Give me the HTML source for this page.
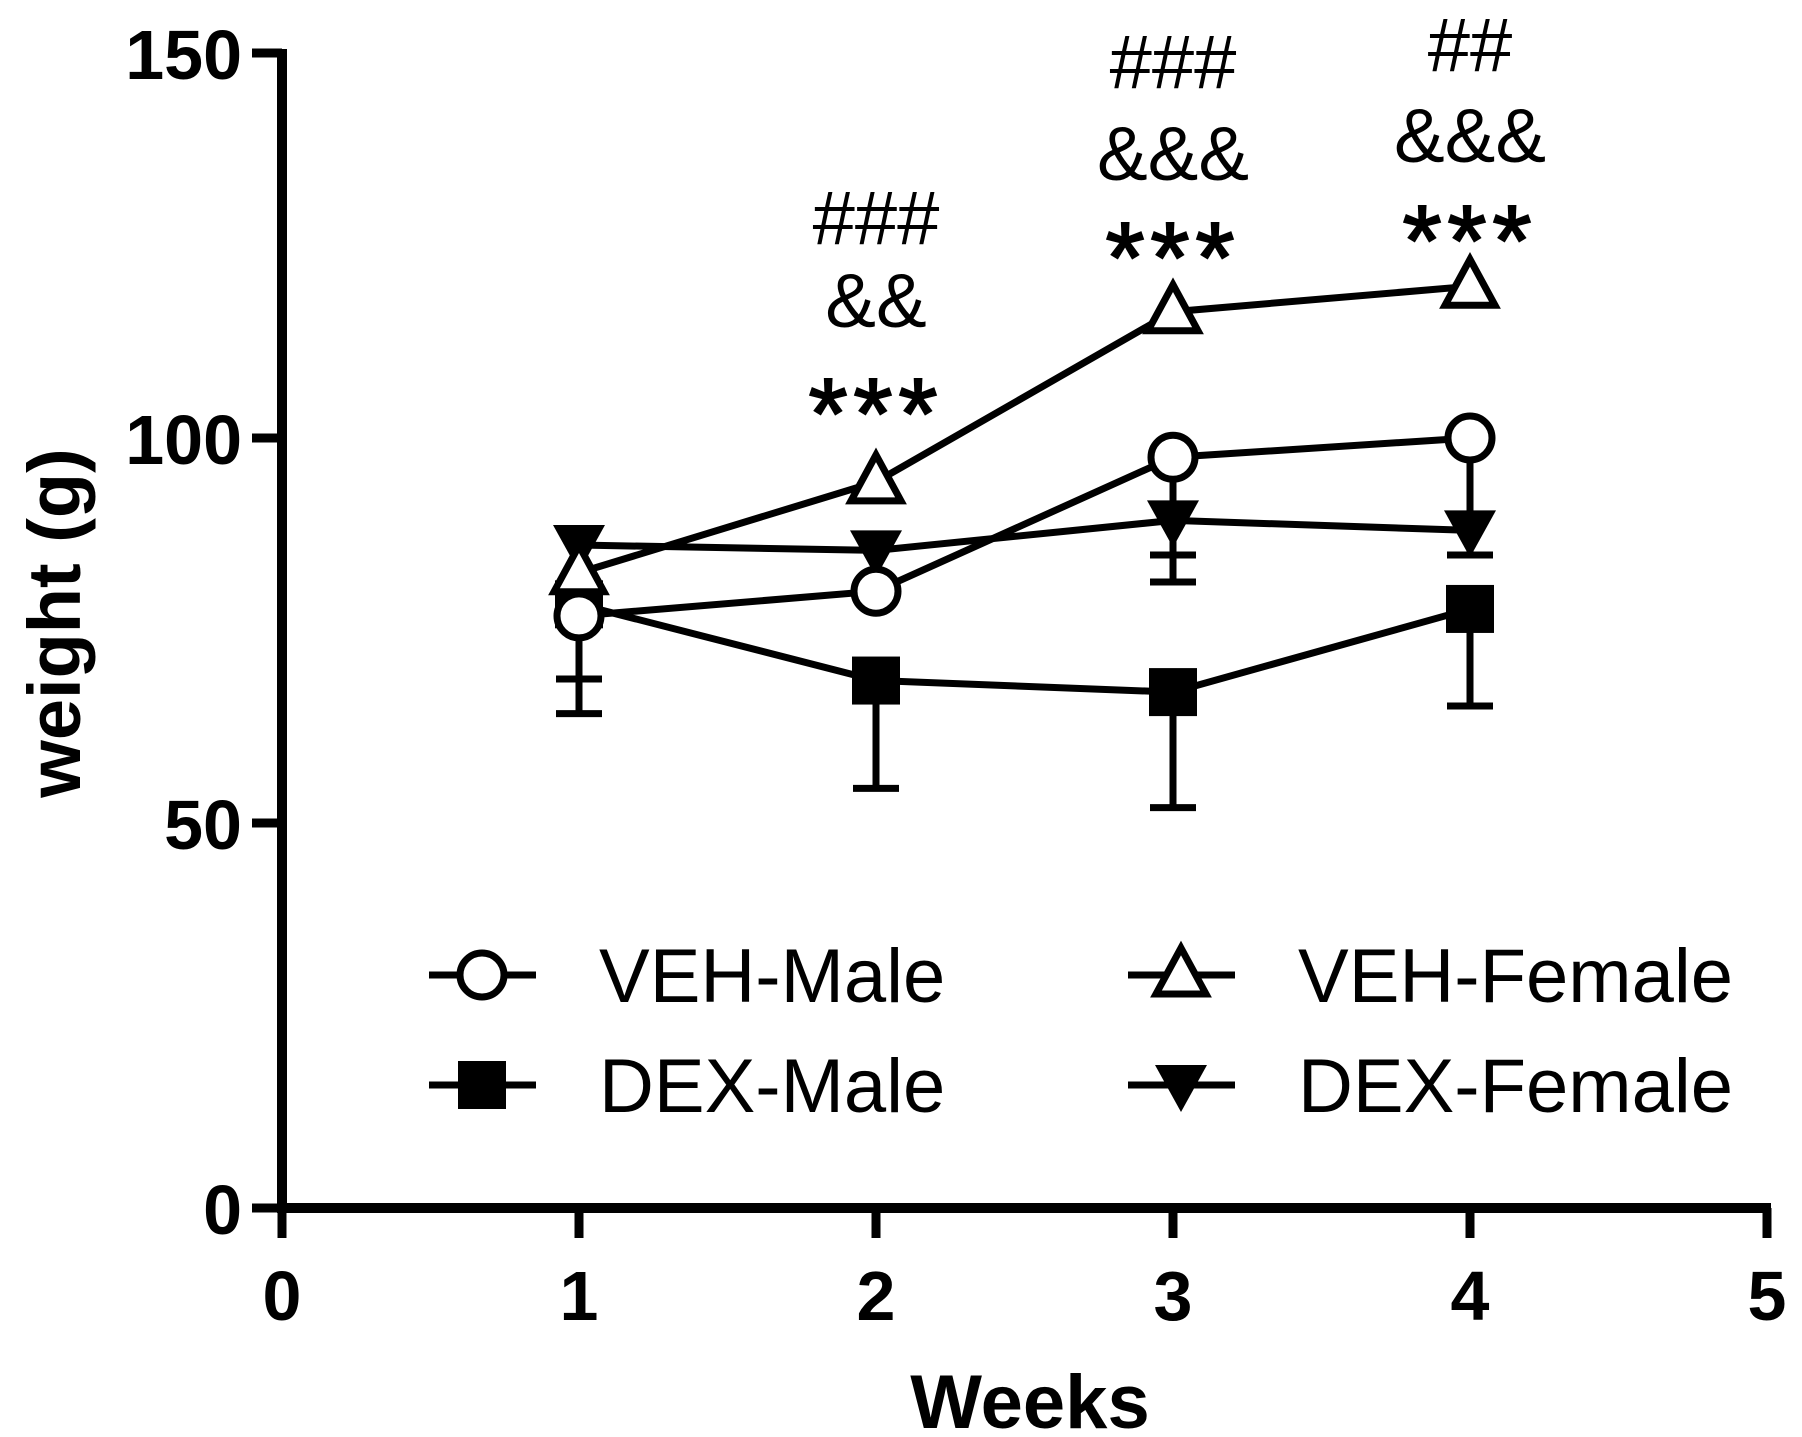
<!DOCTYPE html>
<html><head><meta charset="utf-8"><style>
html,body{margin:0;padding:0;background:#fff;}
svg{display:block;font-family:"Liberation Sans",Arial,sans-serif;}
</style></head><body>
<svg id="chart" width="1802" height="1437" viewBox="0 0 1802 1437" xmlns="http://www.w3.org/2000/svg"></svg>
<script>
const weeks = [1, 2, 3, 4];
const vehMale = [76.9, 80.1, 97.5, 100];
const vehFemale = [82.5, 94.3, 116.4, 119.7];
const dexMale = [78.4, 68.5, 67, 77.8];
const dexFemale = [86.1, 85.4, 89.3, 88];
const vehMaleErr = [8.2, 0, 0, 0];
const dexMaleErr = [14.2, 14, 15, 12.6];
const dexFemaleErr = [0, 0, 8, 3.2];
const vehMaleErrHidden = [0, 0, 12.7, 15.2];
const xTicks = [0, 1, 2, 3, 4, 5];
const yTicks = [0, 50, 100, 150];
const annotWeeks = [2, 3, 4];
const annotHash = ["###", "###", "##"];
const annotAmp = ["&&", "&&&", "&&&"];
const annotStar = ["***", "***", "***"];

const svg = document.getElementById('chart');
const NS = 'http://www.w3.org/2000/svg';
const X = v => 282 + v * 297;
const Y = v => 1208 - v * 7.7;
function mk(tag, attrs, parent) {
  const e = document.createElementNS(NS, tag);
  for (const k in attrs) e.setAttribute(k, attrs[k]);
  (parent || svg).appendChild(e);
  return e;
}
const SW = 7;
let ax = mk('line', {x1: X(0), y1: Y(0), x2: X(5) + 4, y2: Y(0), stroke: '#000', 'stroke-width': 10});


let ay = mk('line', {x1: X(0), y1: Y(0) + 5, x2: X(0), y2: Y(150) - 4, stroke: '#000', 'stroke-width': 10});


xTicks.forEach(t => {
  const l = mk('line', {x1: X(t), y1: Y(0), x2: X(t), y2: Y(0) + 30, stroke: '#000', 'stroke-width': 9});
  
  
  const tx = mk('text', {x: X(t), y: Y(0) + 112, 'font-size': 70, 'font-weight': 'bold', 'text-anchor': 'middle'});
  tx.textContent = t;
  
  
});
yTicks.forEach(t => {
  const l = mk('line', {x1: X(0) - 30, y1: Y(t), x2: X(0), y2: Y(t), stroke: '#000', 'stroke-width': 9});
  
  
  const tx = mk('text', {x: X(0) - 40, y: Y(t) + 26, 'font-size': 70, 'font-weight': 'bold', 'text-anchor': 'end'});
  tx.textContent = t;
  
  
});
let yt = mk('text', {x: 0, y: 0, 'font-size': 74, 'font-weight': 'bold', 'text-anchor': 'middle', transform: 'translate(80,623) rotate(-90)'});
yt.textContent = 'weight (g)';


let xt = mk('text', {x: 1030, y: 1428, 'font-size': 76, 'font-weight': 'bold', 'text-anchor': 'middle'});
xt.textContent = 'Weeks';



function errs(vals, err, name) {
  weeks.forEach((w, i) => {
    if (!err[i]) return;
    const g = mk('g', {});
    
    
    mk('line', {x1: X(w), y1: Y(vals[i]), x2: X(w), y2: Y(vals[i] - err[i]), stroke: '#000', 'stroke-width': SW}, g);
    mk('line', {x1: X(w) - 23, y1: Y(vals[i] - err[i]), x2: X(w) + 23, y2: Y(vals[i] - err[i]), stroke: '#000', 'stroke-width': SW}, g);
  });
}
errs(dexMale, dexMaleErr, 'dex-male-error-bar');
errs(dexFemale, dexFemaleErr, 'dex-female-error-bar');
errs(vehMale, vehMaleErr, 'veh-male-error-bar');
errs(vehMale, vehMaleErrHidden, 'veh-male-error-bar');

function line(vals, name) {
  const p = mk('polyline', {points: weeks.map((w, i) => X(w) + ',' + Y(vals[i])).join(' '), fill: 'none', stroke: '#000', 'stroke-width': SW});
  
  
}
function marker(type, cx, cy, parent) {
  if (type === 'circle') return mk('circle', {cx, cy, r: 22, fill: '#fff', stroke: '#000', 'stroke-width': SW}, parent);
  if (type === 'square') return mk('rect', {x: cx - 24, y: cy - 24, width: 48, height: 48, fill: '#000'}, parent);
  if (type === 'tri') return mk('polygon', {points: `${cx},${cy - 27} ${cx + 25},${cy + 19} ${cx - 25},${cy + 19}`, fill: '#fff', stroke: '#000', 'stroke-width': SW}, parent);
  return mk('polygon', {points: `${cx - 26},${cy - 20} ${cx + 26},${cy - 20} ${cx},${cy + 27}`, fill: '#000'}, parent);
}
function points(vals, type, name) {
  weeks.forEach((w, i) => {
    const m = marker(type, X(w), Y(vals[i]));
    
    
  });
}
line(dexMale, 'dex-male-line');
line(dexFemale, 'dex-female-line');
line(vehMale, 'veh-male-line');
line(vehFemale, 'veh-female-line');
points(dexMale, 'square', 'dex-male-point');
points(dexFemale, 'tridown', 'dex-female-point');
points(vehMale, 'circle', 'veh-male-point');
points(vehFemale, 'tri', 'veh-female-point');

// annotation baselines (layout, px)
const hashBase = [244, 88, 71];
const ampBase = [327, 180, 162];
const starBase = [448, 292, 275];
annotWeeks.forEach((w, i) => {
  const t1 = mk('text', {x: X(w), y: hashBase[i], 'font-size': 76, 'text-anchor': 'middle'});
  t1.textContent = annotHash[i];
  
  
  const t2 = mk('text', {x: X(w), y: ampBase[i], 'font-size': 76, 'text-anchor': 'middle'});
  t2.textContent = annotAmp[i];
  
  
  const t3 = mk('text', {x: X(w), y: starBase[i], 'font-size': 100, 'text-anchor': 'middle', 'letter-spacing': 6, stroke: '#000', 'stroke-width': 2});
  t3.textContent = annotStar[i];
  
  
});

const legendLabels = ['VEH-Male', 'VEH-Female', 'DEX-Male', 'DEX-Female'];
const legendTypes = ['circle', 'tri', 'square', 'tridown'];
legendLabels.forEach((lab, i) => {
  const col = i % 2, row = Math.floor(i / 2);
  const lx = col ? 1128 : 429, cy = row ? 1085 : 975;
  const g = mk('g', {});
  
  
  mk('line', {x1: lx, y1: cy, x2: lx + 107, y2: cy, stroke: '#000', 'stroke-width': SW}, g);
  marker(legendTypes[i], lx + 53, cy, g);
  const t = mk('text', {x: lx + 170, y: cy + 27, 'font-size': 76}, g);
  t.textContent = lab;
});
</script>
</body></html>
